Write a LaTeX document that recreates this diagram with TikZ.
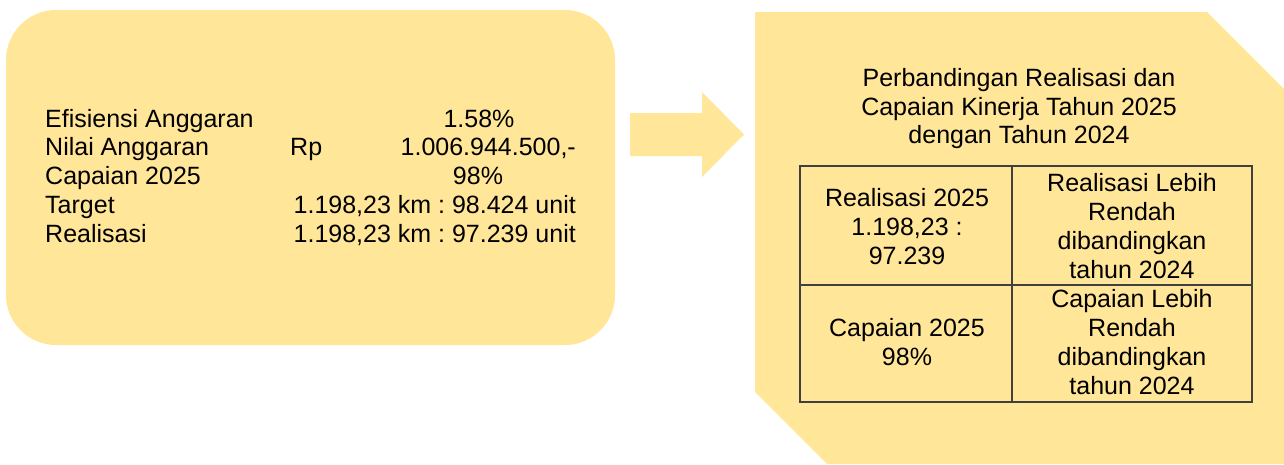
\documentclass[tikz,border=0pt]{standalone}
\usepackage{fontspec}
\setmainfont{Liberation Sans}
\frenchspacing
\definecolor{boxfill}{HTML}{FFE699}
\definecolor{gridline}{HTML}{404040}
\begin{document}
\begin{tikzpicture}[x=1pt,y=-1pt,
  txt/.style={font=\fontsize{25}{29}\selectfont, inner sep=0pt, text=black},
  shapefill/.style={fill=boxfill, draw=none},
  grid/.style={draw=gridline, line width=1.5pt}]
\useasboundingbox (0,0) rectangle (1284,464);
% left rounded box
\fill[shapefill, rounded corners=50pt] (6,10) rectangle (615,345);
% arrow
\fill[shapefill] (630,113) -- (702,113) -- (702,92) -- (744,134.5) -- (702,177) -- (702,156) -- (630,156) -- cycle;
% right snipped shape
\fill[shapefill] (755,12) -- (1207,12) -- (1284,89) -- (1284,464) -- (827,464) -- (755,392) -- cycle;
% left texts
\node[txt, anchor=base west] (l1) at (45,127) {Efisiensi Anggaran};
\node[txt, anchor=base west] (l2) at (45,155.75) {Nilai Anggaran};
\node[txt, anchor=base west] (l3) at (45,184.5) {Capaian 2025};
\node[txt, anchor=base west] (l4) at (45,213.25) {Target};
\node[txt, anchor=base west] (l5) at (45,242) {Realisasi};
\node[txt, anchor=base] (v1) at (479,127) {1.58\%};
\node[txt, anchor=base west] (rp) at (290,155.75) {Rp};
\node[txt, anchor=base east] (v2) at (576,155.75) {1.006.944.500,-};
\node[txt, anchor=base] (v3) at (478,184.5) {98\%};
\node[txt, anchor=base east] (v4) at (576,213.25) {1.198,23 km : 98.424 unit};
\node[txt, anchor=base east] (v5) at (576,242) {1.198,23 km : 97.239 unit};
% title
\node[txt, anchor=base] (h1) at (1019,86.7) {Perbandingan Realisasi dan};
\node[txt, anchor=base] (h2) at (1019,115) {Capaian Kinerja Tahun 2025};
\node[txt, anchor=base] (h3) at (1019,143.5) {dengan Tahun 2024};
% table
\draw[grid] (800,166) rectangle (1252,402);
\draw[grid] (1012,166) -- (1012,402);
\draw[grid] (800,285) -- (1252,285);
% table texts
\node[txt, anchor=base] (a1) at (907,206.7) {Realisasi 2025};
\node[txt, anchor=base] (a2) at (907,235.4) {1.198,23 :};
\node[txt, anchor=base] (a3) at (907,264) {97.239};
\node[txt, anchor=base] (b1) at (1132,191) {Realisasi Lebih};
\node[txt, anchor=base] (b2) at (1132,220) {Rendah};
\node[txt, anchor=base] (b3) at (1132,249) {dibandingkan};
\node[txt, anchor=base] (b4) at (1132,278) {tahun 2024};
\node[txt, anchor=base] (c1) at (907,336.7) {Capaian 2025};
\node[txt, anchor=base] (c2) at (907,365.5) {98\%};
\node[txt, anchor=base] (d1) at (1132,307) {Capaian Lebih};
\node[txt, anchor=base] (d2) at (1132,336) {Rendah};
\node[txt, anchor=base] (d3) at (1132,365) {dibandingkan};
\node[txt, anchor=base] (d4) at (1132,394) {tahun 2024};
\end{tikzpicture}
\end{document}
